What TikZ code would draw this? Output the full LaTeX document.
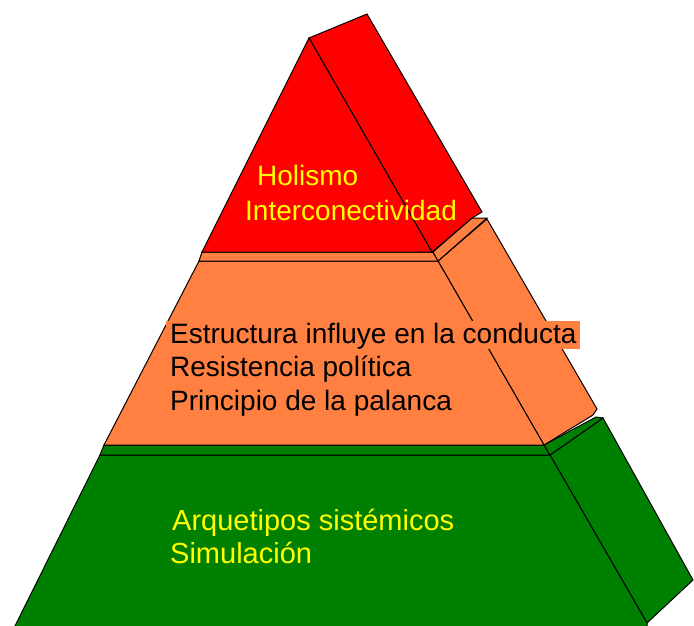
\documentclass[tikz,border=0pt]{standalone}
\usepackage{fontspec}
\setmainfont{Liberation Sans}
\definecolor{pyrred}{HTML}{FF0000}
\definecolor{pyrorange}{HTML}{FF8040}
\definecolor{pyrgreen}{HTML}{008000}
\definecolor{pyryellow}{HTML}{FFFF00}
\tikzset{
  face/.style={draw=black, line width=1pt, line join=miter},
  lbl/.style={anchor=base west, inner sep=0pt, font=\fontsize{28}{30}\selectfont},
}
\begin{document}
\begin{tikzpicture}[x=1pt,y=-1pt]
\clip (0,0) rectangle (694,625);
\fill[white] (0,0) rectangle (694,625);
% ---- green layer ----
\filldraw[face, fill=pyrgreen] (550,455) -- (603,418) -- (693,580) -- (647,623) -- cycle;
\filldraw[face, fill=pyrgreen] (100,455) -- (550,455) -- (647,623) -- (648,640) -- (8,640) -- cycle;
\filldraw[face, fill=pyrgreen] (104,445) -- (544,445) -- (550,455) -- (100,455) -- cycle;
\filldraw[face, fill=pyrgreen] (544,445) -- (596,417) -- (603,418) -- (550,455) -- cycle;
% ---- orange layer ----
\filldraw[face, fill=pyrorange] (438,261) -- (487,219) -- (597,409) -- (593,415) -- (544,445) -- cycle;
\filldraw[face, fill=pyrorange] (199,261) -- (438,261) -- (544,445) -- (104,445) -- cycle;
\filldraw[face, fill=pyrorange] (202,252) -- (433,252) -- (438,261) -- (199,261) -- cycle;
\filldraw[face, fill=pyrorange] (433,252) -- (472,218) -- (487,218) -- (438,261) -- cycle;
% ---- red layer ----
\filldraw[face, fill=pyrred] (309,38) -- (367,14) -- (482,212) -- (472,218) -- (432,252) -- cycle;
\filldraw[face, fill=pyrred] (309,38) -- (432,252) -- (202,252) -- cycle;
% ---- texts ----
\node[lbl, text=pyryellow] (t1) at (257,185) {Holismo};
\node[lbl, text=pyryellow] (t2) at (245,220) {Interconectividad};
\node[lbl, text=black, fill=pyrorange, inner xsep=4pt, inner ysep=1pt, text height=21pt, text depth=5pt] (t3) at (166,343) {Estructura influye en la conducta};
\node[lbl, text=black] (t4) at (170,376) {Resistencia política};
\node[lbl, text=black] (t5) at (170,410) {Principio de la palanca};
\node[lbl, text=pyryellow, font=\fontsize{29}{31}\selectfont] (t6) at (172,530) {Arquetipos sistémicos};
\node[lbl, text=pyryellow, font=\fontsize{29}{31}\selectfont] (t7) at (170,563) {Simulación};
\end{tikzpicture}
\end{document}
